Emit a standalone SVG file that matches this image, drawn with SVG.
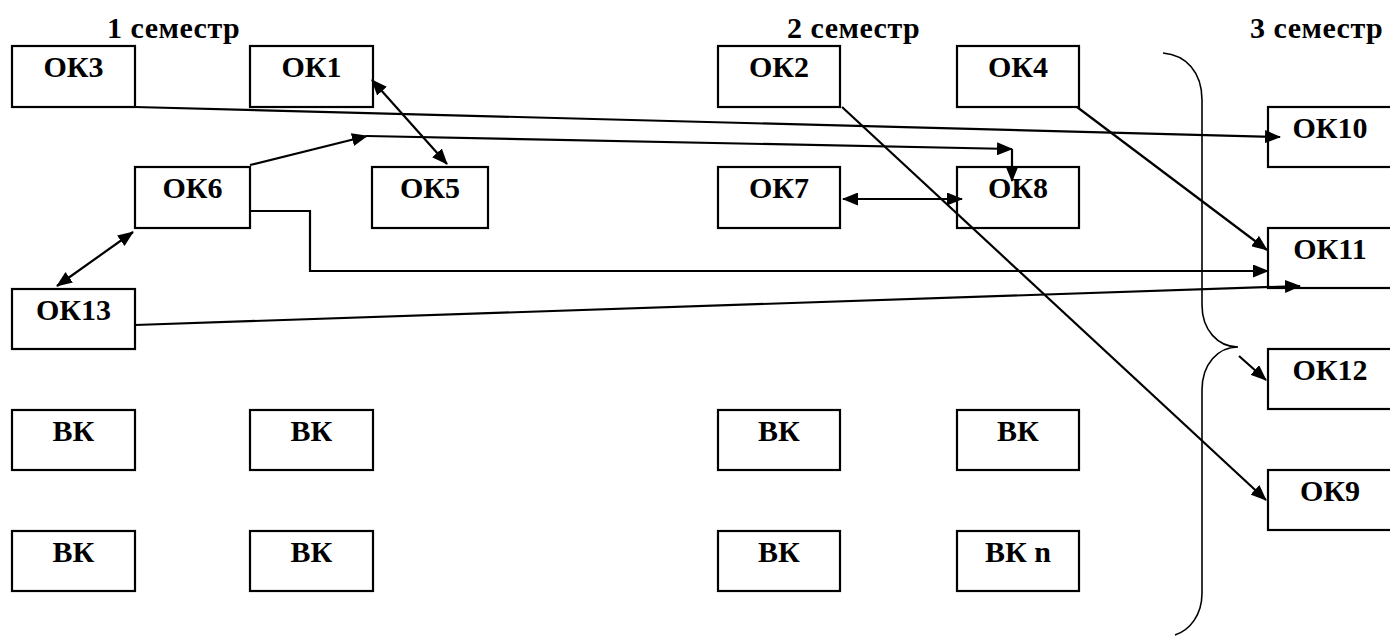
<svg xmlns="http://www.w3.org/2000/svg" width="1390" height="637" viewBox="0 0 1390 637">
<style>
.box rect{fill:#fff;stroke:#000;stroke-width:2.2}
.box text{font-weight:bold;font-size:30px;text-anchor:middle;fill:#000}
.hdr{font-weight:bold;font-size:30px;letter-spacing:0.5px;fill:#000}
.conn path{fill:none;stroke:#000;stroke-width:2.2}
.brace{fill:none;stroke:#000;stroke-width:1.6}
</style>
<defs>
<marker id="ah" viewBox="0 0 16 13" refX="15" refY="6.5" markerWidth="16" markerHeight="13" markerUnits="userSpaceOnUse" orient="auto-start-reverse">
<path d="M0,0 L16,6.5 L0,13 z" fill="#000"/>
</marker>
</defs>
<rect width="1390" height="637" fill="#fff"/>
<g font-family="'Liberation Serif', 'Times New Roman', serif">
<text class="hdr" x="107" y="38">1 семестр</text>
<text class="hdr" x="787" y="38">2 семестр</text>
<text class="hdr" x="1250" y="38">3 семестр</text>

<g id="ok3" class="box"><rect x="12" y="46" width="123" height="61"/><text x="73.5" y="77">ОК3</text></g>
<g id="ok1" class="box"><rect x="250" y="46" width="123" height="61"/><text x="311.5" y="77">ОК1</text></g>
<g id="ok2" class="box"><rect x="718" y="46" width="122" height="61"/><text x="779" y="77">ОК2</text></g>
<g id="ok4" class="box"><rect x="957" y="46" width="122" height="61"/><text x="1018" y="77">ОК4</text></g>
<g id="ok6" class="box"><rect x="135" y="167" width="115" height="61"/><text x="192.5" y="198">ОК6</text></g>
<g id="ok5" class="box"><rect x="372" y="167" width="116" height="61"/><text x="430" y="198">ОК5</text></g>
<g id="ok7" class="box"><rect x="718" y="167" width="122" height="61"/><text x="779" y="198">ОК7</text></g>
<g id="ok8" class="box"><rect x="957" y="167" width="122" height="61"/><text x="1018" y="198">ОК8</text></g>
<g id="ok13" class="box"><rect x="12" y="289" width="123" height="60"/><text x="73.5" y="320">ОК13</text></g>
<g id="ok10" class="box"><rect x="1268" y="107" width="124" height="60"/><text x="1330" y="138">ОК10</text></g>
<g id="ok11" class="box"><rect x="1268" y="228" width="124" height="60"/><text x="1330" y="259">ОК11</text></g>
<g id="ok12" class="box"><rect x="1268" y="349" width="124" height="60"/><text x="1330" y="380">ОК12</text></g>
<g id="ok9" class="box"><rect x="1268" y="470" width="124" height="60"/><text x="1330" y="501">ОК9</text></g>
<g id="vk1" class="box"><rect x="12" y="410" width="123" height="60"/><text x="73.5" y="441">ВК</text></g>
<g id="vk2" class="box"><rect x="250" y="410" width="123" height="60"/><text x="311.5" y="441">ВК</text></g>
<g id="vk3" class="box"><rect x="718" y="410" width="122" height="60"/><text x="779" y="441">ВК</text></g>
<g id="vk4" class="box"><rect x="957" y="410" width="122" height="60"/><text x="1018" y="441">ВК</text></g>
<g id="vk5" class="box"><rect x="12" y="531" width="123" height="60"/><text x="73.5" y="562">ВК</text></g>
<g id="vk6" class="box"><rect x="250" y="531" width="123" height="60"/><text x="311.5" y="562">ВК</text></g>
<g id="vk7" class="box"><rect x="718" y="531" width="122" height="60"/><text x="779" y="562">ВК</text></g>
<g id="vk8" class="box"><rect x="957" y="531" width="122" height="60"/><text x="1018" y="562">ВК n</text></g>
</g>

<path id="brace" class="brace" d="M1163,53 C1186,55 1202,72 1202,100 L1202,305 C1202,330 1218,347 1238,347 C1218,347 1202,364 1202,390 L1202,593 C1202,615 1190,630 1175,635"/>

<g id="connectors" class="conn">
<path d="M135,107 L1280,137" marker-end="url(#ah)"/>
<path d="M372,80 L447,164" marker-start="url(#ah)" marker-end="url(#ah)"/>
<path d="M250,165 L367,136" marker-end="url(#ah)"/>
<path d="M367,136 L1012,149" marker-end="url(#ah)"/>
<path d="M1012,149 L1012,181" marker-end="url(#ah)"/>
<path d="M843,199 L962,199" marker-start="url(#ah)" marker-end="url(#ah)"/>
<path d="M842,107 L1266,500" marker-end="url(#ah)"/>
<path d="M1077,107 L1267,250" marker-end="url(#ah)"/>
<path d="M250,211 L310,211 L310,271 L1268,271" marker-end="url(#ah)"/>
<path d="M135,325 L1300,286" marker-end="url(#ah)"/>
<path d="M1239,356 L1266,380" marker-end="url(#ah)"/>
<path d="M57,286 L133,232" marker-start="url(#ah)" marker-end="url(#ah)"/>
</g>
</svg>
